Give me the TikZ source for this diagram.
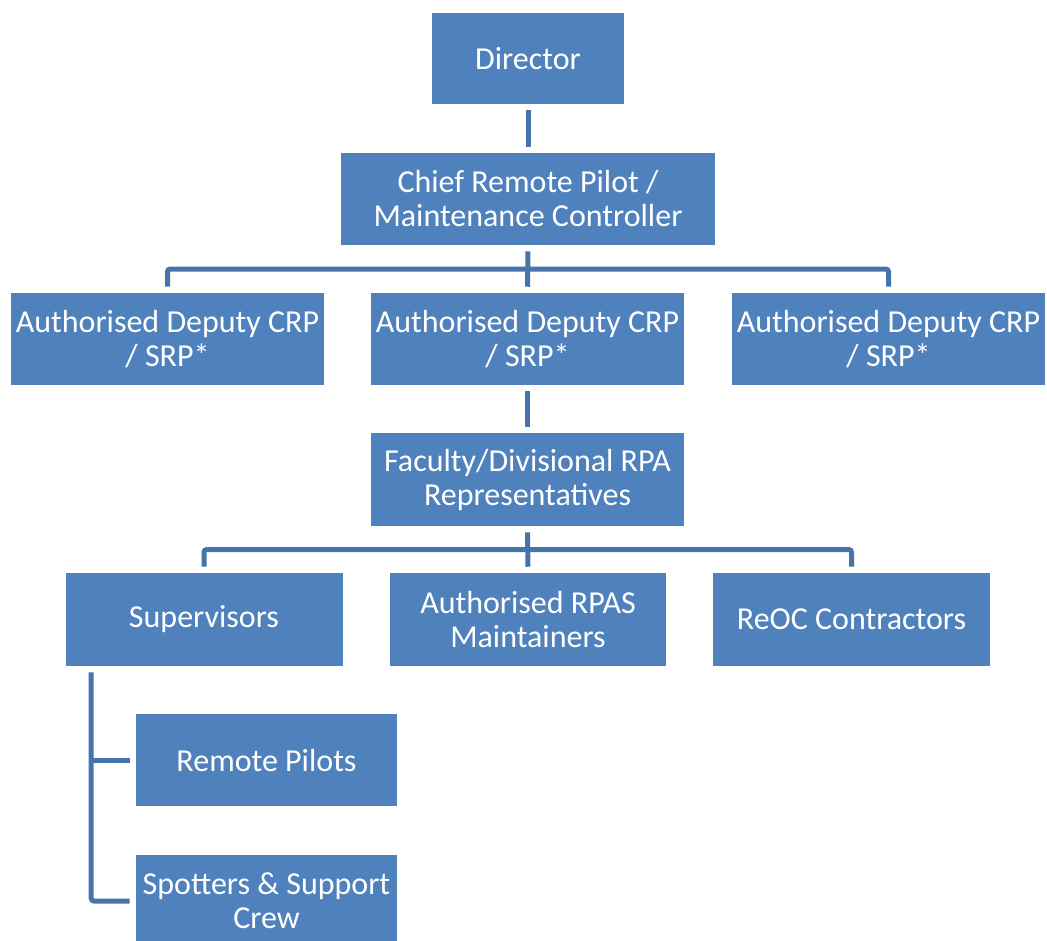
\documentclass[tikz,border=0pt]{standalone}
\usepackage{fontspec}
\setmainfont{Carlito}
\usetikzlibrary{calc}
\definecolor{boxblue}{HTML}{4F81BD}
\definecolor{lineblue}{HTML}{4673AA}
\tikzset{
  box/.style={fill=boxblue, draw=none, text=white, align=center, inner sep=0pt,
    font=\fontsize{24}{25.5}\selectfont},
  wide/.style={box, minimum width=234.75pt, minimum height=69pt},
  conn/.style={draw=lineblue, line width=3.75pt},
}
\begin{document}
\begin{tikzpicture}[x=0.75pt, y=-0.75pt]
\useasboundingbox (0,0) rectangle (1047,940);
\node[box, minimum width=144pt, minimum height=68.25pt] (dir) at (528,58.5) {Director};
\node[box, minimum width=280.5pt, minimum height=69pt] (chief) at (528,199) {Chief Remote Pilot /\\Maintenance Controller};
\node[wide] (dep1) at (167.5,339) {Authorised Deputy CRP\\/ SRP*};
\node[wide] (dep2) at (527.5,339) {Authorised Deputy CRP\\/ SRP*};
\node[wide] (dep3) at (888.5,339) {Authorised Deputy CRP\\/ SRP*};
\node[wide, minimum height=69.75pt] (fac) at (527.5,479.5) {Faculty/Divisional RPA\\Representatives};
\node[box, minimum width=207.75pt, minimum height=69.75pt] (sup) at (204,619.5) {Supervisors};
\node[box, minimum width=207pt, minimum height=69.75pt] (rpas) at (528,619.5) {Authorised RPAS\\Maintainers};
\node[box, minimum width=207.75pt, minimum height=69.75pt] (reoc) at (851.5,619.5) {ReOC Contractors};
\node[box, minimum width=195.75pt, minimum height=69pt] (rp) at (266.5,760) {Remote Pilots};
\node[box, minimum width=195.75pt, minimum height=69pt] (spot) at (266.5,901) {Spotters \& Support\\Crew};

% Director -> Chief
\draw[conn, shorten <=4.5pt, shorten >=4.5pt] (dir.south) -- (chief.north);
% Chief -> deputies
\coordinate (m1) at ($(chief.south)!0.5!(dep2.north)$);
\draw[conn, shorten <=4.5pt, shorten >=4.5pt] (chief.south) -- (dep2.north);
\draw[conn, rounded corners=2pt] ([yshift=4.5pt]dep1.north) |- (m1) -| ([yshift=4.5pt]dep3.north);
% Deputy -> Faculty
\draw[conn, shorten <=4.5pt, shorten >=4.5pt] (dep2.south) -- (fac.north);
% Faculty -> lower row
\coordinate (m2) at ($(fac.south)!0.5!(rpas.north)$);
\draw[conn, shorten <=4.5pt, shorten >=4.5pt] (fac.south) -- (rpas.north);
\draw[conn, rounded corners=2pt] ([yshift=4.5pt]sup.north) |- (m2) -| ([yshift=4.5pt]reoc.north);
% Supervisors -> Remote Pilots, Spotters
\coordinate (s0) at ([xshift=19.5pt, yshift=-4.5pt]sup.south west);
\draw[conn, rounded corners=2pt] (s0) |- ([xshift=-4.5pt]spot.west);
\draw[conn] (s0 |- rp.west) -- ([xshift=-4.5pt]rp.west);
\end{tikzpicture}
\end{document}
